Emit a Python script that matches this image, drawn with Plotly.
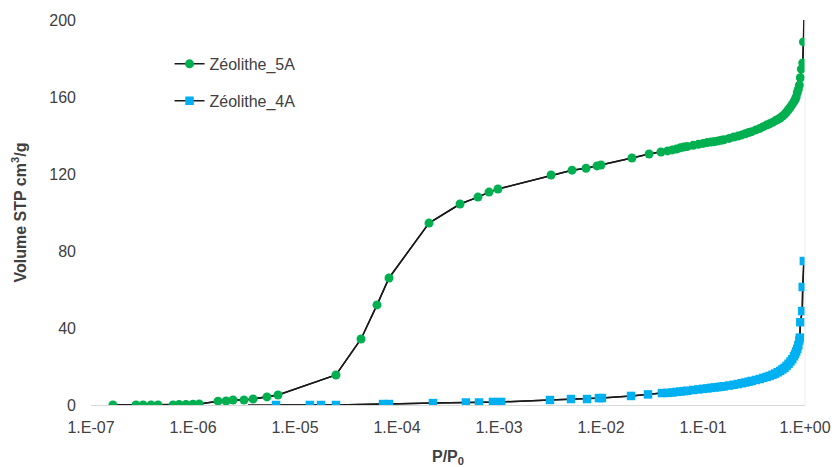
import plotly.graph_objects as go

# Zéolithe 5A
x_5a = [1.64e-7, 2.76e-7, 3.24e-7, 3.88e-7, 4.54e-7, 6.37e-7, 7.29e-7, 8.54e-7, 1.0e-6, 1.15e-6,
        1.76e-6, 2.11e-6, 2.47e-6, 3.16e-6, 3.88e-6, 5.31e-6, 6.81e-6, 2.52e-5, 4.44e-5, 6.37e-5,
        8.35e-5, 2.06e-4, 4.15e-4, 6.22e-4, 7.98e-4, 9.77e-4, 3.24e-3, 5.2e-3, 7.13e-3, 9.14e-3,
        1.0e-2, 0.0201, 0.0296, 0.0387,
        0.045, 0.05, 0.055, 0.06, 0.065, 0.07, 0.08, 0.09, 0.10, 0.11, 0.12, 0.13, 0.14, 0.15,
        0.16, 0.18, 0.20, 0.22, 0.24, 0.26, 0.28, 0.30, 0.33, 0.36, 0.39, 0.42, 0.45, 0.48,
        0.51, 0.54, 0.57, 0.60, 0.63, 0.66, 0.69, 0.72, 0.75, 0.78, 0.80, 0.82, 0.84, 0.86,
        0.88, 0.90, 0.92, 0.95, 0.965]
y_5a = [0.0, 0.0, 0.0, 0.0, 0.0, 0.0, 0.2, 0.3, 0.4, 0.5,
        2.0, 2.1, 2.6, 2.6, 3.1, 4.2, 5.2, 15.6, 34.3, 52.0,
        66.0, 94.5, 104.4, 108.0, 110.6, 112.2, 119.5, 122.0, 123.0, 124.2,
        124.7, 128.3, 130.4, 131.4,
        132.0, 132.5, 133.0, 133.6, 134.0, 134.3, 134.9, 135.4, 135.9, 136.3, 136.6, 136.9, 137.2, 137.5,
        137.8, 138.5, 139.2, 139.7, 140.3, 140.9, 141.5, 142.0, 142.9, 143.7, 144.6, 145.4, 146.1, 146.8,
        147.6, 148.3, 149.1, 150.0, 151.0, 152.2, 153.5, 154.8, 156.2, 157.6, 158.6, 160.0, 162.2, 164.0,
        166.2, 170.0, 174.5, 177.7, 188.6]
# end of the drawn 5A line (no marker)
x_5a_end = [0.975]
y_5a_end = [200.0]

# Zéolithe 4A
x_4a = [6.52e-6, 1.40e-5, 1.80e-5, 2.52e-5, 7.3e-5, 8.35e-5, 2.25e-4, 4.74e-4, 6.37e-4, 8.73e-4,
        1.05e-3, 3.16e-3, 5.08e-3, 7.3e-3, 9.55e-3, 1.02e-2, 0.0197, 0.0289, 0.0396,
        0.045, 0.05, 0.055, 0.06, 0.065, 0.07, 0.08, 0.09, 0.10, 0.11, 0.12, 0.13, 0.14, 0.15,
        0.16, 0.18, 0.20, 0.22, 0.24, 0.26, 0.28, 0.30, 0.33, 0.36, 0.39, 0.42, 0.45, 0.48,
        0.51, 0.54, 0.57, 0.60, 0.63, 0.66, 0.69, 0.72, 0.75, 0.78, 0.80, 0.82, 0.84, 0.86,
        0.88, 0.89, 0.90, 0.94, 0.95, 0.975]
y_4a = [0.0, 0.0, 0.0, 0.0, 0.5, 0.5, 1.0, 1.3, 1.3, 1.6,
        1.6, 2.6, 3.1, 3.1, 3.6, 3.6, 4.7, 5.5, 6.2,
        6.3, 6.5, 6.8, 7.0, 7.2, 7.4, 7.8, 8.1, 8.4, 8.6, 8.9, 9.1, 9.3, 9.5,
        9.7, 10.1, 10.5, 10.9, 11.3, 11.7, 12.1, 12.5, 13.0, 13.5, 14.1, 14.6, 15.1, 15.7,
        16.3, 17.0, 17.7, 18.5, 19.3, 20.3, 21.4, 22.6, 23.8, 25.3, 26.5, 27.8, 29.2, 31.0,
        33.5, 35.0, 43.0, 48.8, 61.3, 74.8]
# start of the drawn 4A line (no marker)
x_4a_start = [3.46e-6]
y_4a_start = [0.0]

x_tickvals = [1e-7, 1e-6, 1e-5, 1e-4, 1e-3, 1e-2, 1e-1, 1e0]
x_ticktext = ["1.E-07", "1.E-06", "1.E-05", "1.E-04", "1.E-03", "1.E-02", "1.E-01", "1.E+00"]
y_tickvals = [0, 40, 80, 120, 160, 200]

GREEN = "#00B050"
BLUE = "#00B0F0"
LINE = "#1a1a1a"
FONT = "Liberation Sans, Arial, sans-serif"
TXT = "#404040"

fig = go.Figure()
fig.add_trace(go.Scatter(x=x_5a + x_5a_end, y=y_5a + y_5a_end, mode="lines",
                         line=dict(color=LINE, width=1.5), showlegend=False, hoverinfo="skip"))
fig.add_trace(go.Scatter(x=x_4a_start + x_4a, y=y_4a_start + y_4a, mode="lines",
                         line=dict(color=LINE, width=1.5), showlegend=False, hoverinfo="skip"))
fig.add_trace(go.Scatter(x=x_5a, y=y_5a, mode="lines+markers", name="Zéolithe_5A",
                         line=dict(color=LINE, width=1.5), legendgroup="a",
                         marker=dict(symbol="circle", size=9, color=GREEN)))
fig.add_trace(go.Scatter(x=x_4a, y=y_4a, mode="lines+markers", name="Zéolithe_4A",
                         line=dict(color=LINE, width=1.5), legendgroup="b",
                         marker=dict(symbol="square", size=8.5, color=BLUE)))

fig.update_layout(
    width=836, height=467,
    margin=dict(l=91, r=31, t=20, b=62),
    paper_bgcolor="white", plot_bgcolor="white",
    font=dict(family=FONT, size=16, color=TXT),
    legend=dict(x=0.11, y=0.93, xanchor="left", yanchor="top",
                bgcolor="rgba(0,0,0,0)", tracegroupgap=13,
                font=dict(size=16, color=TXT)),
    xaxis=dict(type="log", range=[-7, 0], tickvals=x_tickvals, ticktext=x_ticktext,
               showgrid=False, zeroline=False, showline=True, linecolor="#d9d9d9", linewidth=1,
               ticks="", ticklabelstandoff=8, automargin=False,
               title=dict(text="<b>P/P<sub>0</sub></b>", font=dict(size=16, color=TXT), standoff=16)),
    yaxis=dict(range=[0, 200], tickvals=y_tickvals, showgrid=False, zeroline=False,
               showline=False, ticks="", ticklabelstandoff=14, automargin=False,
               title=dict(text="<b>Volume STP cm<sup>3</sup>/g</b>", font=dict(size=16, color=TXT),
                          standoff=18)),
    shapes=[dict(type="line", xref="paper", yref="paper", x0=1, x1=1, y0=0, y1=1,
                 line=dict(color="#ececec", width=1))],
    showlegend=True,
)

fig.write_html("out.html", config={"displayModeBar": False},
               post_script="document.body.style.margin='0';")
